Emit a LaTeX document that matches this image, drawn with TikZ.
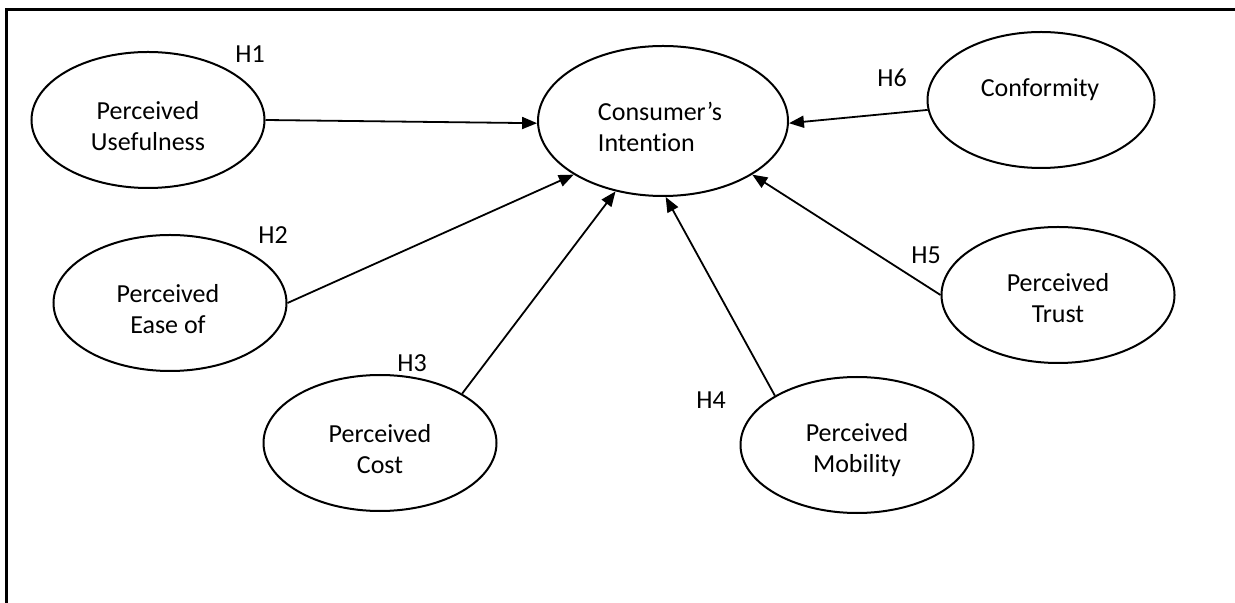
\documentclass[tikz,border=0pt]{standalone}
\usepackage{fontspec}
\setmainfont{Carlito}[Ligatures=NoCommon]
\usetikzlibrary{arrows.meta,shapes.geometric}
\tikzset{
  ar/.style={-{Triangle[length=7.5pt,width=6pt]},line width=0.9pt},
  ell/.style={ellipse,draw,line width=1pt,inner sep=0pt,minimum width=116.5pt,minimum height=68pt},
  txt/.style={font=\fontsize{13}{15.5}\selectfont,align=center,inner sep=0pt},
  hyp/.style={font=\fontsize{13}{15.5}\selectfont,inner sep=0pt}
}

\begin{document}
\begin{tikzpicture}[x=0.5pt,y=-0.5pt]
\useasboundingbox (0,0) rectangle (1235,603);
% frame
\draw[line width=1.5pt] (6,603) -- (6,10) -- (1235,10);
% constructs
\node[ell,minimum width=125pt,minimum height=75pt] (ci) at (663,121) {};
\node[ell] (pu) at (148,120) {};
\node[ell] (peou) at (170,303) {};
\node[ell] (cost) at (380,443) {};
\node[ell] (mob) at (857,445) {};
\node[ell] (trust) at (1058,295) {};
\node[ell,minimum width=113.5pt] (conf) at (1041,100) {};
% texts
\node[txt,align=left] (citxt) at (660,127) {Consumer’s\\Intention};
\node[txt] (putxt) at (148,126) {Perceived\\Usefulness};
\node[txt] (peoutxt) at (168,309) {Perceived\\Ease of};
\node[txt] (costtxt) at (380,449) {Perceived\\Cost};
\node[txt] (mobtxt) at (857,450) {Perceived\\Mobility};
\node[txt] (trusttxt) at (1058,298) {Perceived\\Trust};
\node[txt] (conftxt) at (1040,90) {Conformity};
% hypotheses
\node[hyp] (h1) at (250,54) {H1};
\node[hyp] (h2) at (273,235) {H2};
\node[hyp] (h3) at (412,363) {H3};
\node[hyp] (h4) at (711,400) {H4};
\node[hyp] (h5) at (926,255) {H5};
\node[hyp] (h6) at (892,78) {H6};
% paths
\draw[ar] (pu.east) -- (ci.181);
\draw[ar] (peou.east) -- (ci.211);
\draw[ar] (cost.31) -- (ci.236);
\draw[ar] (mob.149) -- (ci.272);
\draw[ar] (trust.west) -- (ci.329);
\draw[ar] (conf.185) -- (ci.-1);
\end{tikzpicture}
\end{document}
